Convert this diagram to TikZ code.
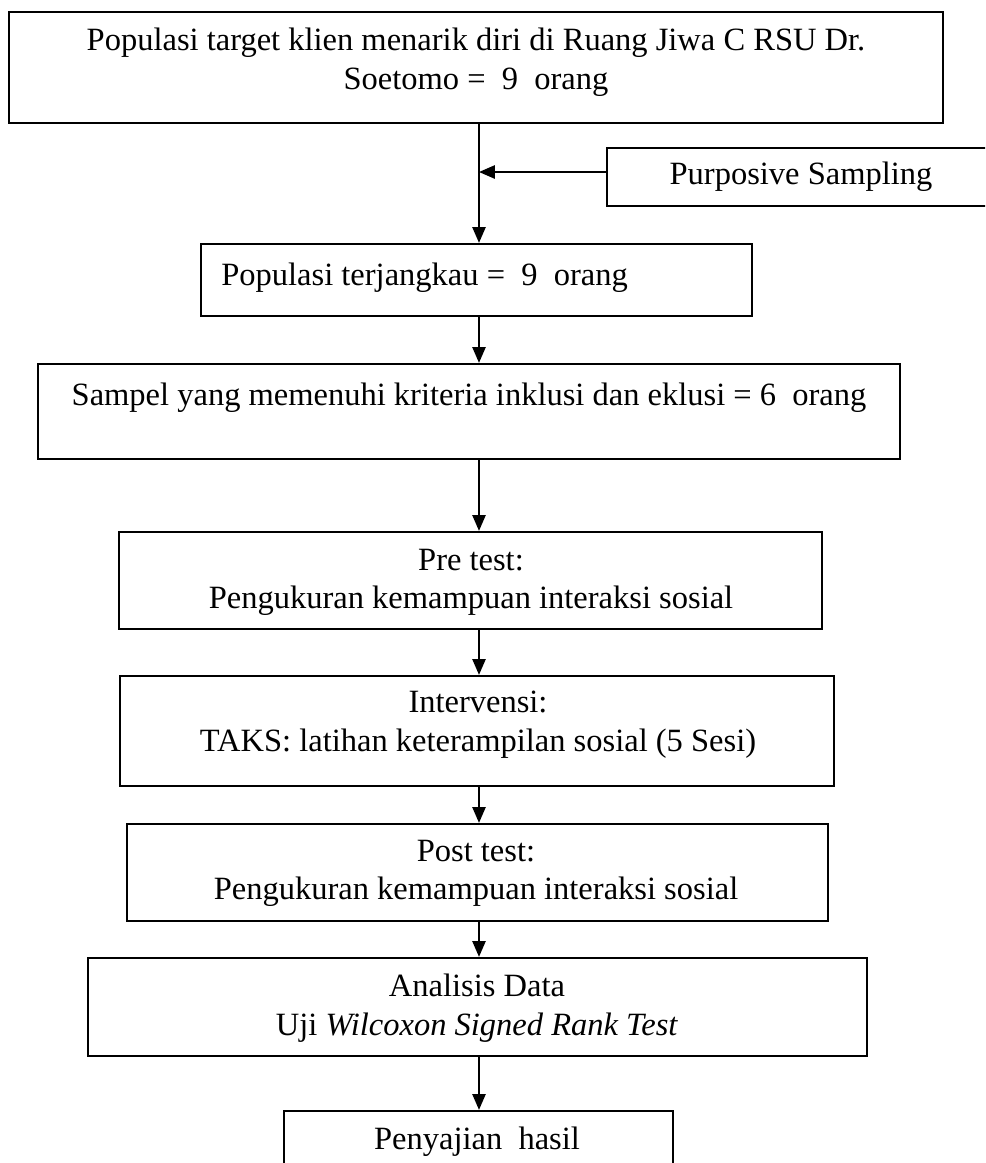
\documentclass[tikz,border=0pt]{standalone}
\usepackage{fontspec}
\setmainfont{Liberation Serif}
\usetikzlibrary{arrows.meta}
\tikzset{
  box/.style={draw, line width=1.3pt, inner sep=0pt},
  txt/.style={align=center, inner sep=0pt, font=\fontsize{18.5}{22}\selectfont},
  arr/.style={line width=1.1pt, -{Triangle[length=9pt,width=7.5pt]}}
}
\begin{document}
\begin{tikzpicture}[x=0.02cm, y=-0.02cm]
  \clip (0,0) rectangle (985,1163);
  \coordinate (spine) at (479,0);
  % boxes
  \node[box, minimum width=18.68cm, minimum height=2.22cm] (target) at (476,67.5) {};
  \node[box, minimum width=7.76cm, minimum height=1.16cm] (sampling) at (801,177) {};
  \node[box, minimum width=11.02cm, minimum height=1.44cm] (reach) at (476.5,280) {};
  \node[box, minimum width=17.24cm, minimum height=1.9cm] (sampel) at (469,411.5) {};
  \node[box, minimum width=14.06cm, minimum height=1.94cm] (pretest) at (470.5,580.5) {};
  \node[box, minimum width=14.28cm, minimum height=2.2cm] (intervensi) at (477,731) {};
  \node[box, minimum width=14.02cm, minimum height=1.94cm] (posttest) at (477.5,872.5) {};
  \node[box, minimum width=15.58cm, minimum height=1.96cm] (analisis) at (477.5,1007) {};
  \node[box, minimum width=7.78cm, minimum height=1.28cm] (hasil) at (478.5,1143) {};
  % texts
  \node[txt] (targettext) at (476,62.5) {Populasi target klien menarik diri di Ruang Jiwa C RSU Dr.\\ Soetomo =~ 9~ orang};
  \node[txt] (samplingtext) at (801,177) {Purposive Sampling};
  \node[txt, anchor=west] (reachtext) at (221,278) {Populasi terjangkau =~ 9~ orang};
  \node[txt] (sampeltext) at (469,398) {Sampel yang memenuhi kriteria inklusi dan eklusi = 6~ orang};
  \node[txt] (pretesttext) at (471,582.5) {Pre test:\\ Pengukuran kemampuan interaksi sosial};
  \node[txt] (intervensitext) at (478,725) {Intervensi:\\ TAKS: latihan keterampilan sosial (5 Sesi)};
  \node[txt] (posttesttext) at (476,873.5) {Post test:\\ Pengukuran kemampuan interaksi sosial};
  \node[txt] (analisistext) at (477,1008) {Analisis Data\\ Uji \textit{Wilcoxon Signed Rank Test}};
  \node[txt] (hasiltext) at (477,1142) {Penyajian~ hasil};
  % arrows
  \coordinate (pin) at ([yshift=0.1cm]sampling.west);
  \draw[arr] (pin) -- (pin -| spine);
  \draw[arr] (target.south -| spine) -- (reach.north -| spine);
  \draw[arr] (reach.south -| spine) -- (sampel.north -| spine);
  \draw[arr] (sampel.south -| spine) -- (pretest.north -| spine);
  \draw[arr] (pretest.south -| spine) -- (intervensi.north -| spine);
  \draw[arr] (intervensi.south -| spine) -- (posttest.north -| spine);
  \draw[arr] (posttest.south -| spine) -- (analisis.north -| spine);
  \draw[arr] (analisis.south -| spine) -- (hasil.north -| spine);
\end{tikzpicture}
\end{document}
